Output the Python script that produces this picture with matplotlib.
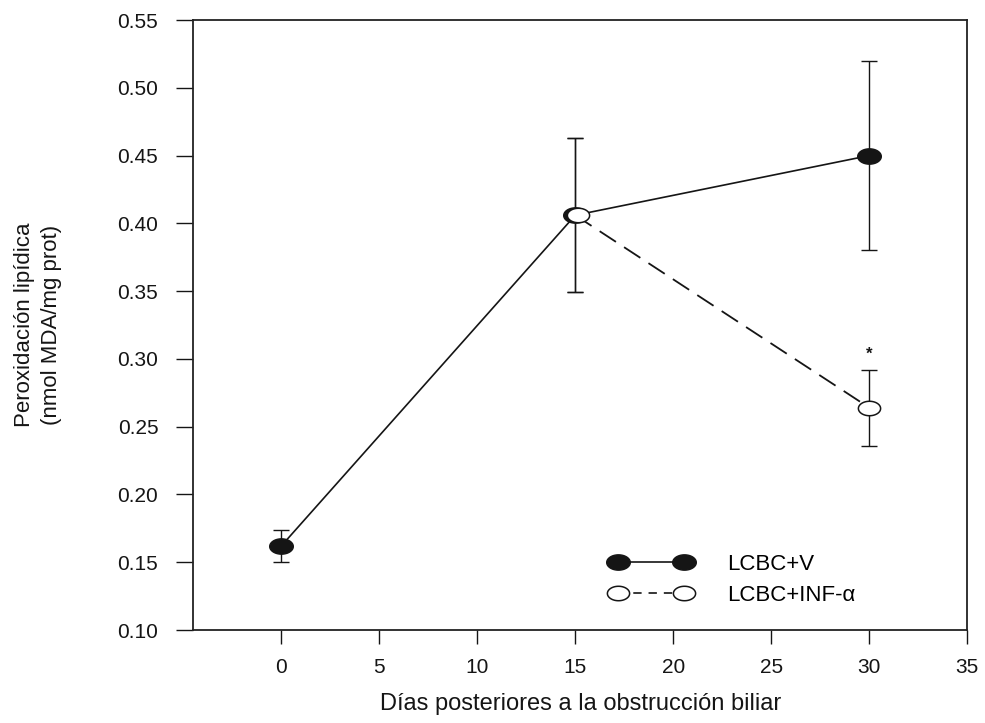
import numpy as np
import matplotlib
matplotlib.use("Agg")
import matplotlib.pyplot as plt
from matplotlib.path import Path
from matplotlib.lines import Line2D
from matplotlib.transforms import offset_copy

plt.rcParams['font.family'] = ['Liberation Sans', 'DejaVu Sans']
plt.rcParams['lines.scale_dashes'] = False

# datos
dias_v = [0, 15, 30]
mda_v = [0.162, 0.406, 0.450]
err_v = [0.012, 0.057, 0.070]

dias_inf = [15, 30]
mda_inf = [0.406, 0.264]
err_inf = [0.057, 0.028]

xticks = [0, 5, 10, 15, 20, 25, 30, 35]
yticks = [0.10, 0.15, 0.20, 0.25, 0.30, 0.35, 0.40, 0.45, 0.50, 0.55]

# marcador eliptico (mas ancho que alto)
t = np.linspace(0, 2 * np.pi, 80)
elipse = Path(np.column_stack([np.cos(t), 0.65 * np.sin(t)]), closed=True)

fig = plt.figure(figsize=(9.85, 7.23), dpi=100)
ax = fig.add_axes([0.196, 0.1286, 0.786, 0.8437])
col = '#151515'

# barras de error
ax.errorbar(dias_v, mda_v, yerr=err_v, fmt='none', ecolor=col, elinewidth=1.0,
            capsize=6, capthick=1.0, zorder=2)
ax.errorbar(dias_inf, mda_inf, yerr=err_inf, fmt='none', ecolor=col, elinewidth=1.0,
            capsize=6, capthick=1.0, zorder=2)

# LCBC+V
ax.plot(dias_v, mda_v, '-', color=col, lw=1.2, zorder=3)
ax.plot(dias_v, mda_v, linestyle='none', marker=elipse, markersize=17,
        mfc=col, mec=col, zorder=4)

# LCBC+INF-a
ax.plot(dias_inf, mda_inf, color=col, lw=1.3, dashes=(14, 7), zorder=3)
ax.plot(dias_inf[1:], mda_inf[1:], linestyle='none', marker=elipse, markersize=16,
        mfc='white', mec=col, mew=1.1, zorder=5)
# el punto de 15 dias se superpone al de LCBC+V, desplazado unos pixeles
desp = offset_copy(ax.transData, fig=fig, x=3, y=0, units='dots')
ax.plot(dias_inf[:1], mda_inf[:1], linestyle='none', marker=elipse, markersize=16,
        mfc='white', mec=col, mew=1.1, zorder=5, transform=desp)

# asterisco de significancia
ax.text(dias_inf[1], mda_inf[1] + err_inf[1] + 0.006, '*', ha='center', va='bottom',
        fontsize=12, fontweight='bold', color=col)

ax.set_xlim(-4.5, 35)
ax.set_ylim(0.10, 0.55)
ax.set_xticks(xticks)
ax.set_yticks(yticks)
ax.set_yticklabels([f'{v:.2f}' for v in yticks])
ax.tick_params(axis='y', direction='out', length=12, width=1, pad=13, labelsize=15, colors=col)
ax.tick_params(axis='x', direction='out', length=10, width=1, pad=10, labelsize=15, colors=col)
for s in ax.spines.values():
    s.set_linewidth(1.3)
    s.set_color('#222222')

ax.set_xlabel('Días posteriores a la obstrucción biliar', fontsize=17, labelpad=12, color=col)
ax.set_ylabel('Peroxidación lipídica\n(nmol MDA/mg prot)', fontsize=16, labelpad=40,
              color=col, linespacing=1.35)

h1 = Line2D([], [], color=col, lw=1.2, marker=elipse, markersize=17, mfc=col, mec=col)
h2 = Line2D([], [], color=col, lw=1.2, dashes=(6, 5), marker=elipse, markersize=16,
            mfc='white', mec=col, mew=1.1)
ax.legend([h1, h2], ['LCBC+V', 'LCBC+INF-α'], loc='upper left',
          bbox_to_anchor=(0.54, 0.125), frameon=False, fontsize=16, numpoints=2,
          handlelength=3.6, handletextpad=1.6, labelspacing=0.45, borderpad=0,
          borderaxespad=0)

fig.savefig('out.png', dpi=100)
